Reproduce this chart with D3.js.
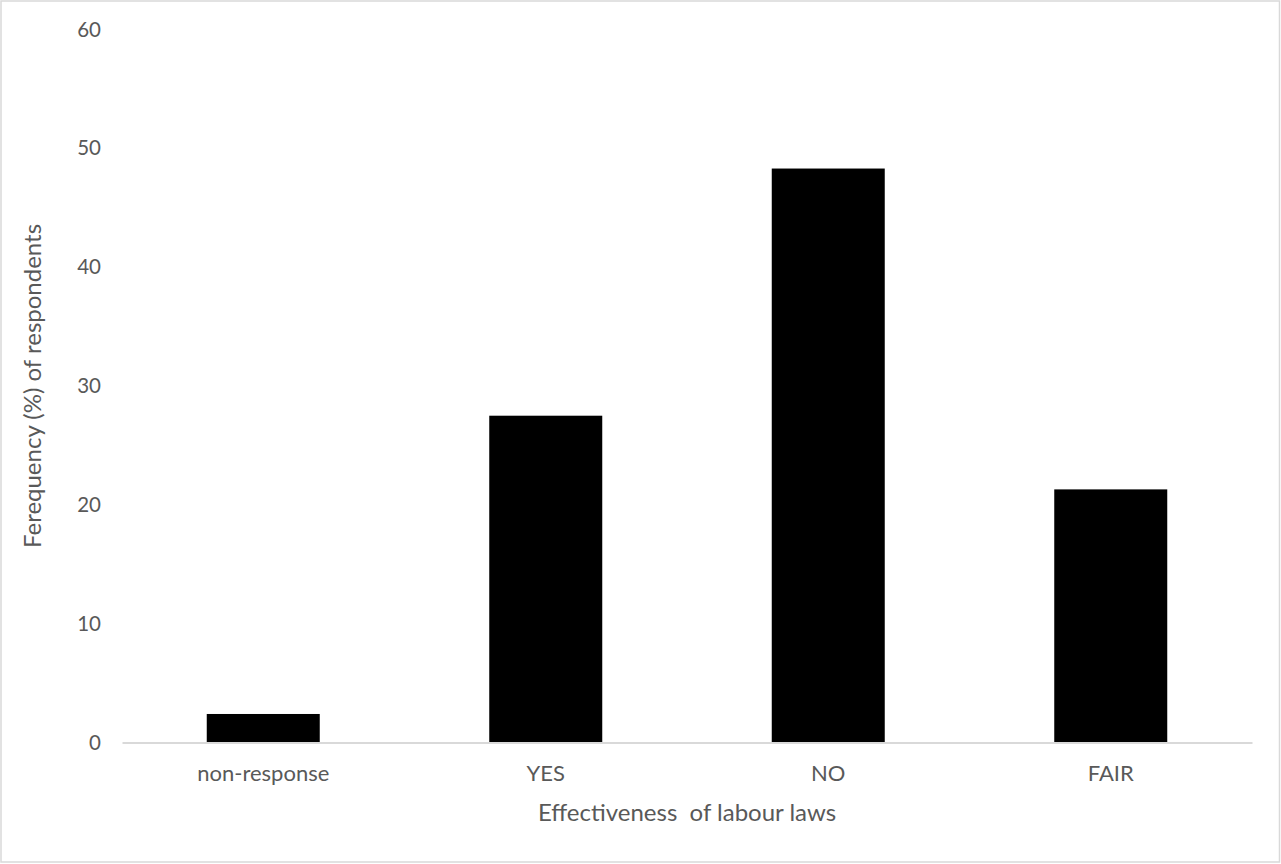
<!DOCTYPE html>
<html>
<head>
<meta charset="utf-8">
<script src="https://cdn.jsdelivr.net/npm/d3@7"></script>
<style>
  html, body { margin: 0; padding: 0; background: #fff; }
  svg { display: block; }
  text { font-family: Lato, "Open Sans", sans-serif; fill: #595959; }
</style>
</head>
<body>
<svg id="chart" width="1281" height="864"></svg>
<script>
// Survey responses on the effectiveness of labour laws
const categories = ["non-response", "YES", "NO", "FAIR"];
const percentages = [2.4, 27.5, 48.3, 21.3];
const yTicks = [0, 10, 20, 30, 40, 50, 60];

const svg = d3.select("#chart");
const W = 1281, H = 864;
const margin = { left: 122, right: 29, top: 29.5, bottom: 121.5 };

// chart border
svg.append("rect")
  .attr("x", 1).attr("y", 1)
  .attr("width", W - 2.5).attr("height", H - 3)
  .attr("fill", "#fff")
  .attr("stroke", "#d9d9d9").attr("stroke-width", 1.5);

const x = d3.scaleBand()
  .domain(categories)
  .range([margin.left, W - margin.right])
  .paddingInner(0.6)
  .paddingOuter(0.3);

const y = d3.scaleLinear()
  .domain([0, 60])
  .range([H - margin.bottom, margin.top]);

// bars
svg.append("g").selectAll("rect")
  .data(categories.map((c, i) => ({ c, v: percentages[i] })))
  .join("rect")
  .attr("x", d => x(d.c))
  .attr("width", x.bandwidth())
  .attr("y", d => y(d.v))
  .attr("height", d => y(0) - y(d.v))
  .attr("fill", "#000");

// x axis
const xAxis = svg.append("g")
  .attr("transform", `translate(0,${y(0)})`)
  .call(d3.axisBottom(x).tickSize(0).tickPadding(23));
xAxis.select(".domain").attr("stroke", "#d9d9d9").attr("stroke-width", 2);
xAxis.selectAll("text")
  .style("font-size", "22px").style("font-family", "Lato, sans-serif")
  .attr("fill", "#595959");

// y axis (labels only)
const yAxis = svg.append("g")
  .attr("transform", `translate(${margin.left},0)`)
  .call(d3.axisLeft(y).tickValues(yTicks).tickSize(0).tickPadding(21));
yAxis.select(".domain").remove();
yAxis.selectAll("text")
  .style("font-size", "20.5px").style("font-family", "Lato, sans-serif")
  .attr("fill", "#595959");

// axis titles
svg.append("text")
  .attr("x", (margin.left + W - margin.right) / 2)
  .attr("y", 821)
  .attr("text-anchor", "middle")
  .attr("xml:space", "preserve")
  .style("font-size", "24px")
  .text("Effectiveness  of labour laws");

svg.append("text")
  .attr("transform", `translate(41,${(y(0) + y(60)) / 2}) rotate(-90)`)
  .attr("text-anchor", "middle")
  .style("font-size", "24px")
  .text("Ferequency (%) of respondents");
</script>
</body>
</html>
